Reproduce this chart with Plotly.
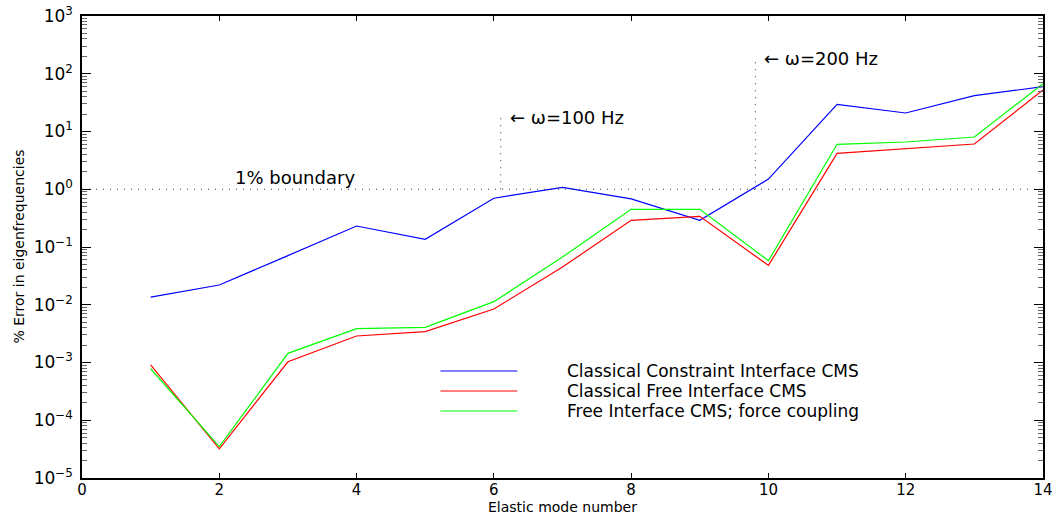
import math
import plotly.graph_objects as go

# Elastic mode numbers and % eigenfrequency errors for three CMS variants
modes = list(range(1, 15))
constraint_cms = [0.0136, 0.022, 0.071, 0.231, 0.136, 0.70, 1.08, 0.68, 0.29,
                  1.5, 29.6, 20.9, 41.7, 59.7]
free_cms = [0.00091, 3.2e-5, 0.00103, 0.00288, 0.00342, 0.00844, 0.045, 0.29,
            0.34, 0.048, 4.19, 5.0, 6.08, 52.3]
free_force_cms = [0.00078, 3.5e-5, 0.00144, 0.00385, 0.00406, 0.0113, 0.067,
                  0.45, 0.45, 0.058, 6.0, 6.58, 8.03, 67.3]

series_names = ["Classical Constraint Interface CMS",
                "Classical Free Interface CMS",
                "Free Interface CMS; force coupling"]
series_colors = ["#0000ff", "#ff0000", "#00ff00"]

# Reference markers
boundary_level = 1.0
freq_marks_x = [6.1, 9.81]
freq_marks_top = [17.3, 186.0]
freq_labels = ["\u2190 \u03c9=100 Hz", "\u2190 \u03c9=200 Hz"]

# Decade ticks on the log axis
decades = list(range(-5, 4))
decade_labels = ["10<sup>%s</sup>" % (str(d).replace("-", "\u2212")) for d in decades]
minor_vals = [k * 10.0 ** d for d in decades[:-1] for k in range(2, 10)]

font_family = "DejaVu Sans, Liberation Sans, Arial, sans-serif"
dot_style = dict(color="#333333", width=1, dash="1px,6px")

fig = go.Figure()
for name, ys, col in zip(series_names,
                         [constraint_cms, free_cms, free_force_cms],
                         series_colors):
    fig.add_trace(go.Scatter(x=modes, y=ys, mode="lines", name=name,
                             line=dict(color=col, width=1.2),
                             showlegend=False))

# 1% boundary line
fig.add_trace(go.Scatter(x=[0, 14], y=[boundary_level, boundary_level],
                         mode="lines", showlegend=False, line=dot_style))
# frequency markers
for xv, top in zip(freq_marks_x, freq_marks_top):
    fig.add_trace(go.Scatter(x=[xv, xv], y=[boundary_level, top],
                             mode="lines", showlegend=False, line=dot_style))

annots = [dict(x=3.1, y=0.205, xref="x", yref="y", text="1% boundary",
               showarrow=False, font=dict(size=18, color="black"))]
for xv, top, lab in zip(freq_marks_x, freq_marks_top, freq_labels):
    annots.append(dict(x=xv + 0.1, y=math.log10(top),
                       xref="x", yref="y", text=lab, showarrow=False,
                       xanchor="left", yanchor="middle",
                       font=dict(size=18, color="black")))

# Hand-placed legend without a frame
shapes = []
leg_y = [0.2316, 0.1883, 0.1450]
for name, col, ly in zip(series_names, series_colors, leg_y):
    shapes.append(dict(type="line", xref="paper", yref="paper",
                       x0=0.373, x1=0.453, y0=ly, y1=ly,
                       line=dict(color=col, width=1.2)))
    annots.append(dict(x=0.504, y=ly, xref="paper", yref="paper", text=name,
                       showarrow=False, xanchor="left", yanchor="middle",
                       borderpad=0, font=dict(size=17, color="black")))

# Axis titles
annots.append(dict(x=0.5, y=-0.0823, xref="paper", yref="paper",
                   text="Elastic mode number", showarrow=False,
                   yanchor="bottom", borderpad=0,
                   font=dict(size=14, color="black")))
annots.append(dict(x=-0.066, y=0.5, xref="paper", yref="paper",
                   text="% Error in eigenfrequencies", showarrow=False,
                   textangle=-90, xanchor="center",
                   font=dict(size=14, color="black")))

fig.update_layout(
    width=1062, height=516,
    margin=dict(l=82, r=19, t=16, b=38),
    paper_bgcolor="white", plot_bgcolor="white",
    font=dict(family=font_family, color="black"),
    annotations=annots, shapes=shapes,
    showlegend=False,
)
fig.update_xaxes(range=[0, 14], dtick=2, tick0=0, showgrid=False,
                 zeroline=False, showline=True, linecolor="black",
                 linewidth=1.5, mirror="ticks", ticks="inside", ticklen=5,
                 tickcolor="black", tickfont=dict(size=15),
                 ticklabelstandoff=-3,
                 automargin=False)
fig.update_yaxes(type="log", range=[-5, 3], showgrid=False,
                 tickmode="array", tickvals=[10.0 ** d for d in decades],
                 ticktext=decade_labels,
                 zeroline=False, showline=True, linecolor="black",
                 linewidth=1.5, mirror="ticks", ticks="inside", ticklen=9,
                 tickcolor="black", tickfont=dict(size=17),
                 ticklabelstandoff=4,
                 minor=dict(ticks="inside", ticklen=5, tickmode="array",
                            tickvals=minor_vals, tickcolor="#666666",
                            showgrid=False),
                 automargin=False)

fig.write_html("out.html")
